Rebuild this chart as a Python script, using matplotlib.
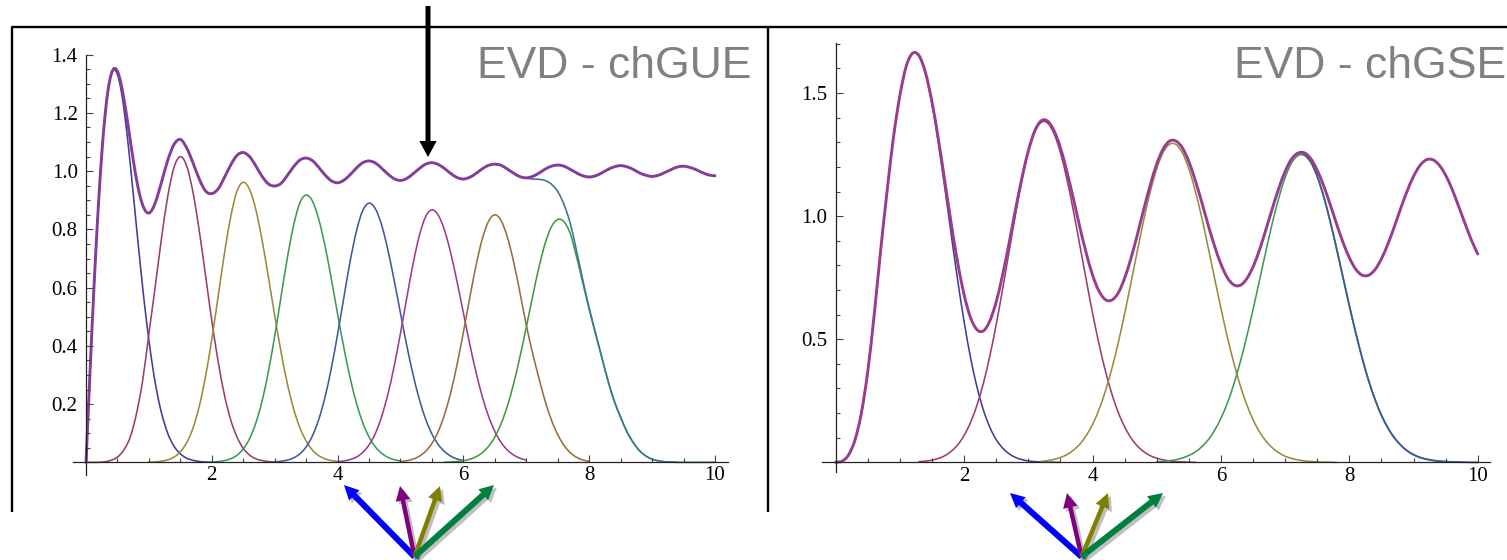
import numpy as np
import matplotlib
matplotlib.use("Agg")
import matplotlib.pyplot as plt
import matplotlib.patheffects as pe
from matplotlib.patches import FancyArrowPatch, ArrowStyle, PathPatch
from matplotlib.path import Path
from matplotlib.ticker import FixedLocator, MultipleLocator, FormatStrFormatter

# ---------------- chGUE (left panel) ----------------
# full density, 0..1.05 in steps of 0.05, then 1.1..10.0 in steps of 0.1
GUE_RHO_FINE = [0.0, 0.245, 0.482, 0.700, 0.894, 1.058, 1.186, 1.278, 1.333, 1.353, 1.343,
                1.307, 1.251, 1.185, 1.111, 1.040, 0.975, 0.922, 0.884, 0.862, 0.856, 0.867]
GUE_RHO = [0.891, 0.962, 1.038, 1.092, 1.109, 1.080, 1.029, 0.973, 0.932, 0.923,
           0.939, 0.978, 1.021, 1.054, 1.064, 1.050, 1.018, 0.982, 0.956, 0.949,
           0.958, 0.985, 1.015, 1.038, 1.045, 1.036, 1.013, 0.987, 0.967, 0.960,
           0.969, 0.988, 1.011, 1.029, 1.035, 1.028, 1.010, 0.990, 0.974, 0.968,
           0.975, 0.991, 1.009, 1.024, 1.029, 1.023, 1.009, 0.992, 0.978, 0.973,
           0.979, 0.992, 1.008, 1.020, 1.024, 1.020, 1.007, 0.993, 0.981, 0.977,
           0.982, 0.993, 1.007, 1.017, 1.021, 1.017, 1.006, 0.994, 0.984, 0.980,
           0.984, 0.994, 1.006, 1.015, 1.019, 1.015, 1.006, 0.994, 0.986, 0.982,
           0.986, 0.995, 1.005, 1.014, 1.017, 1.013, 1.005, 0.995, 0.987, 0.984]

GUE_K1_X = [0.0, 0.05, 0.1, 0.15, 0.2, 0.25, 0.3, 0.35, 0.4, 0.45, 0.5, 0.55, 0.6, 0.65,
            0.7, 0.75, 0.8, 0.85, 0.9, 0.95, 1.0, 1.05, 1.1, 1.15, 1.2,
            1.3, 1.4, 1.5, 1.6, 1.7, 1.8, 1.9, 2.0]
GUE_K1 = [0.0, 0.245, 0.482, 0.700, 0.894, 1.057, 1.186, 1.277, 1.330, 1.348, 1.331,
          1.287, 1.218, 1.131, 1.031, 0.924, 0.814, 0.706, 0.602, 0.506, 0.419,
          0.341, 0.274, 0.217, 0.170, 0.099, 0.055, 0.029, 0.014, 0.007, 0.003, 0.001, 0.0005]

# k-th eigenvalue curves, step 0.1 starting at *_X0
GUE_K2_X0 = 0.0
GUE_K2 = [0.0, 0.0, 0.0, 0.002, 0.007, 0.018, 0.042, 0.085, 0.165, 0.28, 0.442, 0.603, 0.769,
          0.914, 1.014, 1.05, 1.018, 0.928, 0.796, 0.642, 0.486, 0.347, 0.232, 0.146, 0.087,
          0.048, 0.025, 0.012, 0.006, 0.0025, 0.001]
GUE_K3_X0 = 1.0
GUE_K3 = [0.001, 0.0015, 0.004, 0.0085, 0.018, 0.036, 0.067, 0.117, 0.192, 0.295, 0.423,
          0.569, 0.716, 0.843, 0.931, 0.962, 0.937, 0.868, 0.762, 0.636, 0.504, 0.380, 0.271,
          0.184, 0.119, 0.073, 0.042, 0.023, 0.012, 0.006, 0.003]
GUE_K4_X0 = 2.0
GUE_K4 = [0.001, 0.0026, 0.006, 0.012, 0.024, 0.046, 0.081, 0.135, 0.211, 0.312, 0.434,
          0.568, 0.701, 0.814, 0.891, 0.918, 0.897, 0.835, 0.743, 0.630, 0.509, 0.393, 0.289,
          0.203, 0.136, 0.087, 0.053, 0.031, 0.017, 0.009, 0.0046]
GUE_K5_X0 = 3.0
GUE_K5 = [0.0016, 0.0036, 0.0076, 0.015, 0.029, 0.053, 0.091, 0.147, 0.224, 0.323, 0.440,
          0.567, 0.691, 0.795, 0.865, 0.89, 0.871, 0.815, 0.729, 0.624, 0.512, 0.401, 0.301,
          0.216, 0.148, 0.097, 0.061, 0.037, 0.021, 0.0116, 0.0061]
GUE_K6_X0 = 4.0
GUE_K6 = [0.002, 0.0046, 0.0095, 0.018, 0.034, 0.060, 0.099, 0.157, 0.234, 0.331, 0.444,
          0.565, 0.682, 0.779, 0.844, 0.867, 0.849, 0.797, 0.718, 0.619, 0.513, 0.407, 0.310,
          0.226, 0.158, 0.106, 0.068, 0.042, 0.025, 0.014, 0.0077]
GUE_K7_X0 = 5.0
GUE_K7 = [0.0026, 0.0055, 0.011, 0.021, 0.038, 0.065, 0.106, 0.164, 0.241, 0.337, 0.447,
          0.564, 0.675, 0.767, 0.828, 0.85, 0.830, 0.773, 0.687, 0.582, 0.471, 0.375, 0.29,
          0.21, 0.145, 0.095, 0.058, 0.033, 0.017, 0.008, 0.003]
GUE_K8_X0 = 5.7
GUE_K8 = [0.0006, 0.0013, 0.003, 0.0055, 0.0105, 0.019, 0.033, 0.055, 0.087, 0.133,
          0.194, 0.271, 0.363, 0.464, 0.569, 0.669, 0.752, 0.809, 0.834, 0.826,
          0.785, 0.705, 0.615, 0.525, 0.442, 0.36, 0.279, 0.209, 0.155, 0.105,
          0.068, 0.04, 0.022, 0.011, 0.005, 0.002, 0.001, 0.0]
# sum of the 8 curves (shown where it leaves the full density)
GUE_SUM_X0 = 6.5
GUE_SUM = [1.024, 1.020, 1.007, 0.993, 0.981, 0.976, 0.973, 0.972, 0.968, 0.955,
           0.93, 0.885, 0.82, 0.725, 0.625, 0.53, 0.445, 0.362, 0.28, 0.21,
           0.155, 0.105, 0.068, 0.04, 0.022, 0.011, 0.005, 0.002, 0.001, 0.0,
           0.0, 0.0, 0.0, 0.0, 0.0, 0.0]

# ---------------- chGSE (right panel) ----------------
GSE_RHO = [0.0, 0.005, 0.03, 0.09, 0.2, 0.37, 0.6, 0.86, 1.1, 1.32,
           1.49, 1.61, 1.662, 1.651, 1.582, 1.464, 1.312, 1.141, 0.969, 0.811,
           0.681, 0.588, 0.539, 0.534, 0.574, 0.652, 0.762, 0.890, 1.026, 1.155,
           1.265, 1.346, 1.387, 1.386, 1.347, 1.278, 1.182, 1.073, 0.958, 0.852,
           0.761, 0.696, 0.661, 0.659, 0.688, 0.748, 0.830, 0.927, 1.030, 1.127,
           1.212, 1.273, 1.305, 1.305, 1.277, 1.222, 1.145, 1.058, 0.965, 0.879,
           0.805, 0.750, 0.721, 0.719, 0.745, 0.794, 0.863, 0.945, 1.031, 1.112,
           1.182, 1.232, 1.256, 1.257, 1.233, 1.186, 1.123, 1.048, 0.969, 0.894,
           0.831, 0.784, 0.760, 0.760, 0.783, 0.827, 0.887, 0.957, 1.032, 1.102,
           1.162, 1.206, 1.229, 1.229, 1.207, 1.166, 1.109, 1.041, 0.971, 0.903,
           0.846]
GSE_K1_X0 = 0.0
GSE_K1 = [0.0, 0.005, 0.03, 0.09, 0.2, 0.37, 0.6, 0.86, 1.1, 1.32, 1.49, 1.61, 1.662,
          1.648, 1.577, 1.455, 1.296, 1.114, 0.924, 0.740, 0.572, 0.426, 0.307, 0.213,
          0.143, 0.092, 0.058, 0.035, 0.020, 0.011, 0.006, 0.003, 0.0015, 0.0007, 0.0003, 0.0]
GSE_K2_X0 = 1.3
GSE_K2 = [0.003, 0.005, 0.009, 0.016, 0.027, 0.045, 0.071, 0.109, 0.162, 0.232,
          0.321, 0.431, 0.560, 0.704, 0.855, 1.006, 1.144, 1.259, 1.341, 1.381,
          1.378, 1.335, 1.258, 1.151, 1.024, 0.885, 0.744, 0.607, 0.482, 0.372,
          0.279, 0.203, 0.144, 0.099, 0.066, 0.043, 0.027, 0.017, 0.010, 0.006,
          0.003, 0.002, 0.001, 0.0]
GSE_K3_X0 = 3.2
GSE_K3 = [0.004, 0.007, 0.012, 0.020, 0.031, 0.049, 0.073, 0.108, 0.154, 0.214,
          0.289, 0.380, 0.485, 0.604, 0.731, 0.861, 0.987, 1.100, 1.193, 1.259,
          1.292, 1.291, 1.257, 1.193, 1.103, 0.995, 0.874, 0.749, 0.626, 0.509,
          0.404, 0.312, 0.236, 0.173, 0.124, 0.087, 0.059, 0.039, 0.025, 0.016,
          0.010, 0.006, 0.0035, 0.002, 0.001, 0.0005, 0.0]
GSE_K4_X0 = 5.0
GSE_K4 = [0.002, 0.004, 0.007, 0.011, 0.018, 0.028, 0.042, 0.063, 0.091, 0.130,
          0.179, 0.241, 0.317, 0.407, 0.509, 0.621, 0.739, 0.858, 0.972, 1.073,
          1.157, 1.216, 1.246, 1.246, 1.217, 1.160, 1.079, 0.980, 0.869, 0.752,
          0.636, 0.525, 0.423, 0.332, 0.255, 0.191, 0.140, 0.100, 0.070, 0.047,
          0.031, 0.020, 0.013, 0.008, 0.005, 0.003, 0.0016, 0.001, 0.0005]
GSE_SUM_X0 = 6.0
GSE_SUM = [0.805, 0.750, 0.721, 0.719, 0.745, 0.794, 0.863, 0.945, 1.031, 1.112,
           1.182, 1.232, 1.256, 1.252, 1.221, 1.162, 1.080, 0.980, 0.869, 0.752,
           0.636, 0.525, 0.423, 0.332, 0.255, 0.191, 0.140, 0.100, 0.070, 0.047,
           0.031, 0.020, 0.013, 0.008, 0.005, 0.003, 0.0016, 0.001, 0.0005, 0.0, 0.0]

# Mathematica-like default palette
C = ["#3f3d99", "#993d71", "#998b3d", "#3d9956", "#3d5a99",
     "#993d8f", "#996d3d", "#43993d", "#3d7899", "#843d99"]

plt.rcParams["font.family"] = ["Liberation Serif", "DejaVu Serif"]
TITLE_FONT = "Liberation Sans"
W, H = 1507, 560


def grid(x0, vals, step=0.1):
    return x0 + step * np.arange(len(vals))


def smooth_line(ax, x, y, color, lw):
    # cubic Hermite path through the points (drawn as Bezier segments)
    x = np.asarray(x, float)
    y = np.asarray(y, float)
    d = np.gradient(y, x)
    verts = [(x[0], y[0])]
    codes = [Path.MOVETO]
    for i in range(len(x) - 1):
        h = x[i + 1] - x[i]
        verts += [(x[i] + h / 3, y[i] + d[i] * h / 3),
                  (x[i + 1] - h / 3, y[i + 1] - d[i + 1] * h / 3),
                  (x[i + 1], y[i + 1])]
        codes += [Path.CURVE4] * 3
    ax.add_patch(PathPatch(Path(verts, codes), fill=False, edgecolor=color, lw=lw,
                           capstyle="round", joinstyle="round"))


def style_axes(ax, ymajor, yminor):
    for s in ("top", "right"):
        ax.spines[s].set_visible(False)
    ax.spines["left"].set_position(("data", 0))
    ax.spines["bottom"].set_position(("data", 0))
    for s in ("left", "bottom"):
        ax.spines[s].set_linewidth(0.9)
        ax.spines[s].set_color("#222222")
    ax.xaxis.set_major_locator(FixedLocator([2, 4, 6, 8, 10]))
    ax.xaxis.set_minor_locator(MultipleLocator(0.5))
    ax.yaxis.set_major_locator(FixedLocator(ymajor))
    ax.yaxis.set_minor_locator(MultipleLocator(yminor))
    ax.yaxis.set_major_formatter(FormatStrFormatter("%.1f"))
    ax.tick_params(which="both", direction="in", color="#444444", width=0.8)
    ax.tick_params(which="major", length=5)
    ax.tick_params(which="minor", length=3)
    ax.tick_params(axis="x", pad=3, labelsize=15)
    ax.tick_params(axis="y", pad=6, labelsize=15)
    ax.patch.set_visible(False)


fig = plt.figure(figsize=(W / 100, H / 100), dpi=100)

# ---- left: chGUE ----
axL = fig.add_axes([73 / W, (H - 475) / H, 655 / W, (475 - 54.7) / H])
axL.set_xlim(-0.207, 10.207)
axL.set_ylim(-0.0436, 1.4)
smooth_line(axL, GUE_K1_X, GUE_K1, C[0], 1.15)
for i, (x0, vals) in enumerate([(GUE_K2_X0, GUE_K2), (GUE_K3_X0, GUE_K3), (GUE_K4_X0, GUE_K4),
                                (GUE_K5_X0, GUE_K5), (GUE_K6_X0, GUE_K6), (GUE_K7_X0, GUE_K7),
                                (GUE_K8_X0, GUE_K8)]):
    smooth_line(axL, grid(x0, vals), vals, C[i + 1], 1.15)
smooth_line(axL, grid(GUE_SUM_X0, GUE_SUM), GUE_SUM, C[8], 1.2)
rho_x = np.r_[grid(0.0, GUE_RHO_FINE, 0.05), grid(1.1, GUE_RHO)]
smooth_line(axL, rho_x, GUE_RHO_FINE + GUE_RHO, C[9], 2.1)
style_axes(axL, [0.2, 0.4, 0.6, 0.8, 1.0, 1.2, 1.4], 0.05)

# ---- right: chGSE ----
axR = fig.add_axes([822 / W, (H - 471.7) / H, 668 / W, (471.7 - 43.3) / H])
axR.set_xlim(-0.213, 10.19)
axR.set_ylim(-0.038, 1.702)
for i, (x0, vals) in enumerate([(GSE_K1_X0, GSE_K1), (GSE_K2_X0, GSE_K2),
                                (GSE_K3_X0, GSE_K3), (GSE_K4_X0, GSE_K4)]):
    smooth_line(axR, grid(x0, vals), vals, C[i], 1.15)
smooth_line(axR, grid(GSE_SUM_X0, GSE_SUM), GSE_SUM, C[4], 1.3)
smooth_line(axR, grid(0.0, GSE_RHO), GSE_RHO, C[5], 2.1)
style_axes(axR, [0.5, 1.0, 1.5], 0.1)

# titles
fig.text(751 / W, 1 - 78 / H, "EVD - chGUE", ha="right", va="baseline",
         fontsize=32, color="#808080", family=TITLE_FONT)
fig.text(1506 / W, 1 - 78 / H, "EVD - chGSE", ha="right", va="baseline",
         fontsize=32, color="#808080", family=TITLE_FONT)

# overlay in pixel coordinates: frame lines and arrows
ov = fig.add_axes([0, 0, 1, 1], zorder=5)
ov.set_xlim(0, W)
ov.set_ylim(H, 0)
ov.axis("off")
ov.patch.set_visible(False)
ov.plot([12, 12, W], [512, 27, 27], color="black", lw=1.7, solid_capstyle="butt")
ov.plot([768, 768], [27, 512], color="black", lw=1.7, solid_capstyle="butt")

black = FancyArrowPatch((428, 6), (428, 157), mutation_scale=1, lw=0, color="black",
                        shrinkA=0, shrinkB=0,
                        arrowstyle=ArrowStyle("simple", head_length=11.5,
                                              head_width=12.5, tail_width=3.6))
ov.add_patch(black)

ARROW_COLORS = ["#0000ff", "#800080", "#808000", "#008040"]
ARROW_WIDTHS = [4.3, 3.2, 3.2, 4.3]
groups = [((414.5, 556.7), [(344, 485), (400, 486), (440, 486), (494, 485)]),
          ((1081.6, 556.7), [(1010, 493), (1067, 493), (1108, 493), (1163, 493)])]
for origin, tips in groups:
    for tip, col, tw in zip(tips, ARROW_COLORS, ARROW_WIDTHS):
        a = FancyArrowPatch(origin, tip, mutation_scale=1, lw=0, color=col,
                            shrinkA=0, shrinkB=0,
                            arrowstyle=ArrowStyle("simple", head_length=10.5,
                                                  head_width=10.5, tail_width=tw))
        a.set_path_effects([pe.SimplePatchShadow(offset=(2, -2), shadow_rgbFace="black",
                                                 alpha=0.25), pe.Normal()])
        ov.add_patch(a)

fig.savefig("out.png", dpi=100)
